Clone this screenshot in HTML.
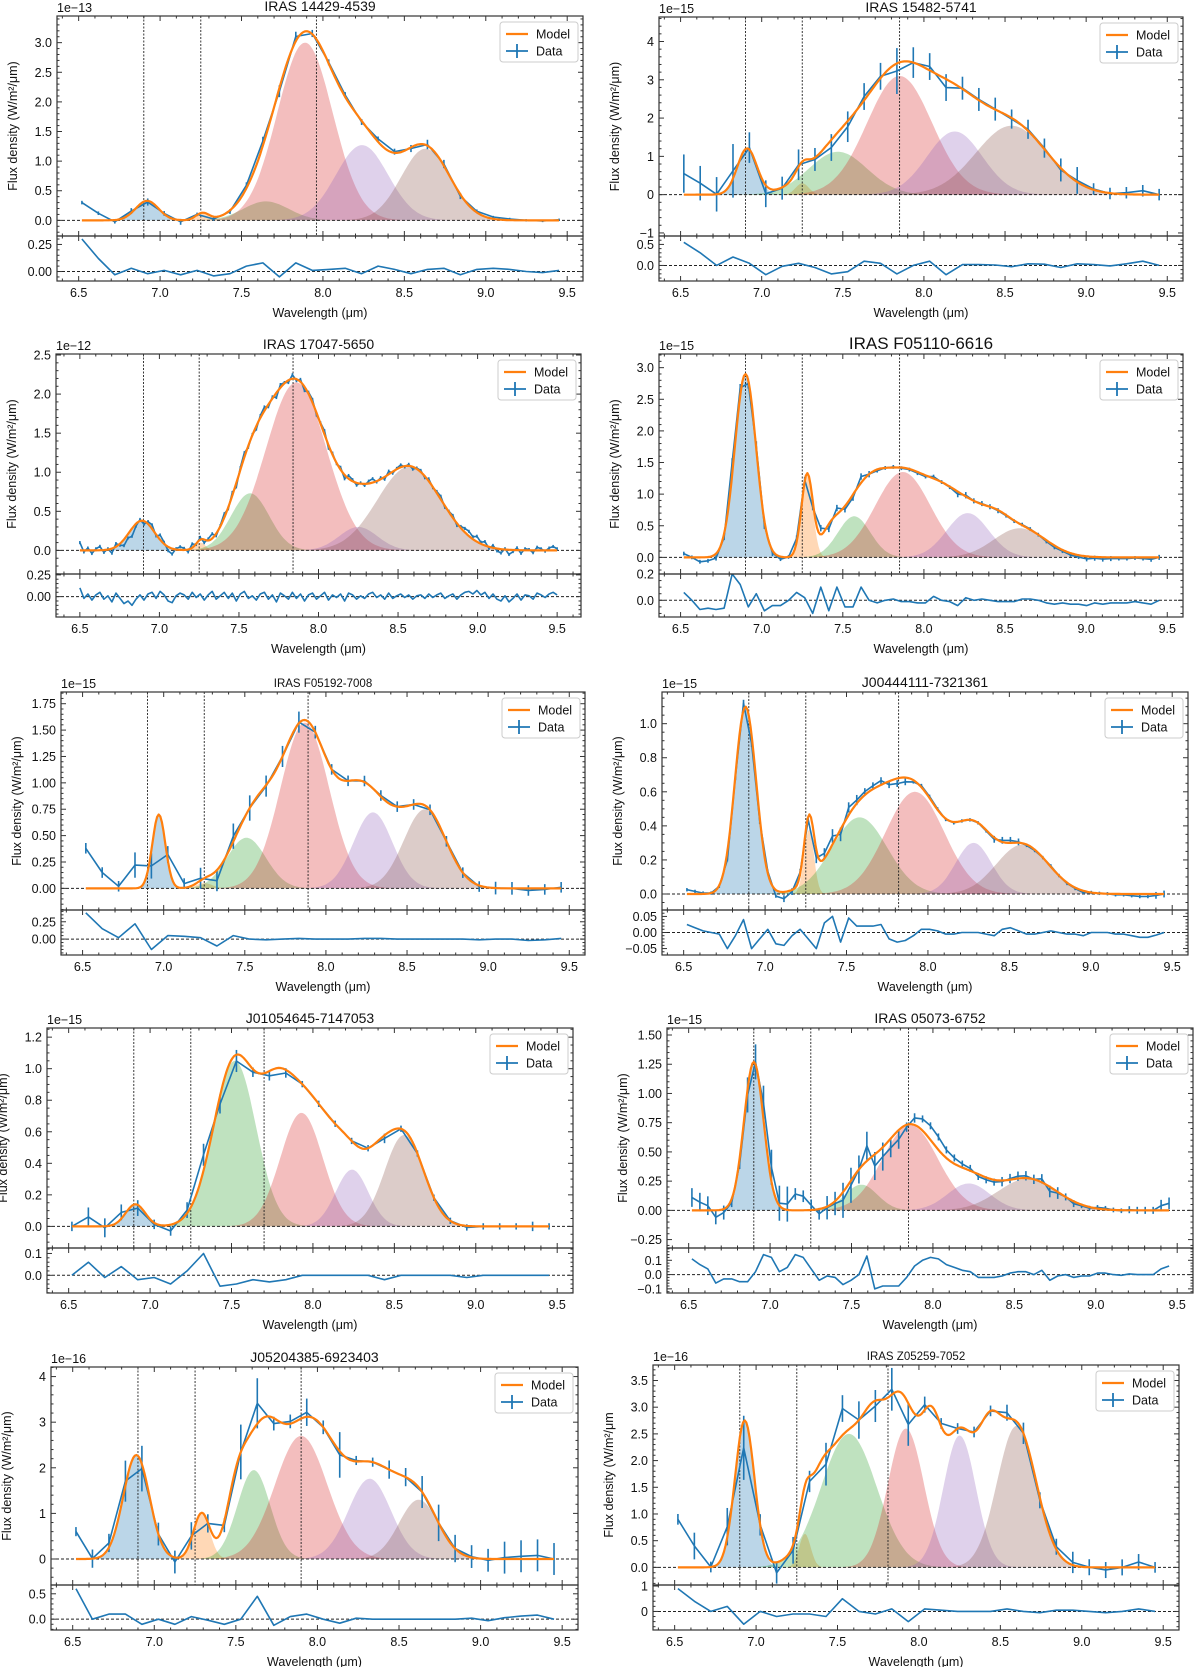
<!DOCTYPE html>
<html><head><meta charset="utf-8"><title>PAH fits</title>
<style>
html,body{margin:0;padding:0;background:#fff;}
svg{display:block;font-family:"Liberation Sans","DejaVu Sans",sans-serif;}
</style></head>
<body>
<svg id="fig" xmlns="http://www.w3.org/2000/svg" width="1200" height="1667" viewBox="0 0 1200 1667"></svg>
<script>
// ---------- data: Gaussian components [center, amplitude, sigma]; order: blue, orange, green, red, purple, brown ----------
const p1Components=[[6.92,0.33,0.07],[7.26,0.12,0.04],[7.65,0.32,0.14],[7.89,3.0,0.17],[8.24,1.27,0.16],[8.63,1.21,0.15]];
const p2Components=[[6.91,1.2,0.06],[7.25,0.3,0.04],[7.47,1.12,0.18],[7.85,3.1,0.2],[8.19,1.65,0.17],[8.54,1.8,0.22]];
const p3Components=[[6.89,0.38,0.08],[7.26,0.1,0.03],[7.57,0.73,0.12],[7.86,2.15,0.19],[8.25,0.3,0.12],[8.57,1.07,0.2]];
const p4Components=[[6.9,2.9,0.065],[7.28,1.3,0.035],[7.57,0.65,0.1],[7.87,1.35,0.17],[8.27,0.7,0.13],[8.59,0.46,0.16]];
const p5Components=[[6.97,0.7,0.04],[7.25,0.05,0.05],[7.51,0.48,0.12],[7.87,1.57,0.15],[8.29,0.72,0.12],[8.61,0.75,0.13]];
const p6Components=[[6.88,1.1,0.065],[7.27,0.38,0.03],[7.58,0.45,0.17],[7.92,0.6,0.18],[8.28,0.3,0.11],[8.58,0.29,0.16]];
const p7Components=[[6.91,0.14,0.06],[7.25,0.0,0.04],[7.52,1.05,0.13],[7.93,0.72,0.13],[8.24,0.36,0.1],[8.56,0.58,0.12]];
const p8Components=[[6.9,1.27,0.06],[7.25,0.0,0.04],[7.56,0.22,0.1],[7.86,0.73,0.17],[8.22,0.23,0.13],[8.58,0.27,0.18]];
const p9Components=[[6.89,2.28,0.08],[7.29,1.0,0.05],[7.61,1.95,0.1],[7.9,2.7,0.16],[8.32,1.76,0.13],[8.62,1.3,0.12]];
const p10Components=[[6.93,2.75,0.06],[7.3,0.63,0.035],[7.57,2.5,0.17],[7.92,2.6,0.11],[8.25,2.47,0.1],[8.6,2.65,0.12]];
// extra model-only Gaussians (part of the fitted model, not shaded)
const p1ModelExtra=[], p2ModelExtra=[], p3ModelExtra=[], p6ModelExtra=[], p8ModelExtra=[];
const p4ModelExtra=[[7.42,0.3,0.06],[7.7,0.28,0.08],[8.1,0.36,0.1],[8.45,0.17,0.08]];
const p5ModelExtra=[[7.62,0.25,0.1],[8.15,0.38,0.1],[8.45,0.12,0.08]];
const p7ModelExtra=[[7.76,0.5,0.1],[8.1,0.25,0.1],[8.4,0.2,0.08]];
const p9ModelExtra=[[7.5,0.8,0.06],[7.72,0.6,0.08],[8.08,0.9,0.12],[8.48,0.4,0.1]];
const p10ModelExtra=[[7.38,0.5,0.06],[7.73,0.9,0.07],[7.86,0.3,0.06],[8.08,1.5,0.06],[8.43,1.45,0.07]];

// ---------- residuals (data − model) on evenly spaced wavelength grid ----------
const p1Resid=[0.3,0.12,-0.03,0.03,-0.02,0.01,-0.03,0.01,-0.04,-0.02,0.05,0.08,-0.05,0.08,0.01,0.02,0.03,-0.02,0.05,0.02,-0.02,0.02,0.03,-0.03,0.02,0.03,0.02,0.0,-0.01,0.01];
const p2Resid=[0.55,0.3,0.0,0.2,0.05,-0.22,-0.02,0.05,-0.05,-0.2,-0.15,0.1,0.05,-0.2,0.0,0.1,-0.22,0.02,0.02,0.01,-0.03,0.04,0.03,-0.05,0.04,0.02,-0.01,0.04,0.1,0.0];
const p3Resid=[0.1,-0.02,0.03,-0.04,0.02,0.05,-0.03,0.01,-0.06,0.04,-0.02,-0.08,-0.05,-0.1,-0.03,0.02,-0.04,0.03,0.05,-0.02,0.06,0.02,-0.05,-0.07,0.01,0.04,0.02,-0.03,0.05,-0.01,0.03,-0.04,0.02,0.06,-0.03,0.01,0.05,-0.02,0.04,-0.05,0.03,0.06,-0.02,0.01,-0.04,0.03,0.05,-0.03,0.02,-0.06,0.04,0.01,-0.03,0.05,-0.02,0.03,-0.05,0.02,0.04,-0.03,0.01,0.05,-0.04,0.02,-0.01,0.03,-0.05,0.04,0.02,-0.03,0.01,-0.02,0.03,0.05,-0.01,0.02,-0.03,0.04,-0.02,0.01,0.03,-0.01,0.02,-0.03,0.01,0.02,-0.02,0.03,-0.01,0.02,0.04,-0.02,0.01,0.03,-0.03,0.02,0.05,0.06,0.03,0.07,0.02,0.05,-0.02,0.03,-0.03,-0.05,0.01,-0.06,-0.02,0.03,-0.04,0.02,0.01,-0.03,0.04,0.02,-0.01,0.03,0.05,0.02];
const p4Resid=[0.06,0.0,-0.07,-0.06,-0.07,-0.06,0.2,0.12,-0.05,0.05,-0.08,-0.04,-0.04,0.0,0.06,0.02,-0.1,0.1,-0.08,0.1,-0.05,-0.05,0.1,0.0,-0.02,0.0,0.01,-0.01,-0.01,-0.02,-0.02,0.03,0.0,-0.01,-0.04,0.02,0.0,0.01,0.0,-0.01,-0.01,-0.01,0.01,0.01,0.0,-0.02,-0.03,-0.02,-0.03,-0.03,-0.04,-0.02,-0.03,-0.02,-0.02,-0.02,-0.01,-0.02,-0.03,0.0];
const p5Resid=[0.38,0.15,0.02,0.22,-0.15,0.05,0.04,0.02,-0.1,0.05,0.0,-0.01,0.0,0.01,0.0,0.0,0.0,0.01,0.01,0.0,0.0,0.0,0.0,0.0,-0.01,0.0,0.0,-0.02,-0.01,0.01];
const p6Resid=[0.025,0.015,0.005,0.0,-0.005,-0.05,-0.01,0.04,-0.05,-0.02,0.01,-0.035,-0.04,-0.01,0.01,-0.02,-0.05,0.03,0.05,-0.03,0.045,0.02,0.02,0.02,0.025,-0.02,-0.03,-0.025,-0.01,0.01,0.01,0.005,-0.005,-0.005,0.0,0.0,0.0,-0.005,-0.01,0.01,0.015,0.005,-0.005,-0.005,0.0,0.005,0.0,-0.005,-0.005,-0.01,0.0,0.0,0.0,-0.005,-0.005,-0.01,-0.015,-0.015,-0.008,0.0];
const p7Resid=[0.0,0.06,-0.01,0.04,-0.02,-0.01,-0.04,0.02,0.1,-0.05,-0.04,-0.02,-0.03,-0.02,0.0,0.0,0.0,0.0,0.0,-0.02,0.0,0.0,0.0,0.0,-0.01,0.0,0.0,0.0,0.0,0.0];
const p8Resid=[0.11,0.07,0.04,-0.06,-0.03,-0.03,-0.05,-0.05,0.02,0.14,0.12,0.02,0.05,0.14,0.12,0.04,-0.04,-0.01,-0.02,-0.07,-0.04,0.0,0.13,-0.1,-0.08,-0.08,-0.08,-0.02,0.06,0.1,0.12,0.11,0.07,0.05,0.03,0.02,-0.02,-0.02,-0.02,-0.01,0.01,0.02,0.02,0.0,0.03,-0.04,-0.01,0.0,-0.02,-0.01,-0.01,0.01,0.01,0.0,-0.005,0.005,0.0,0.0,0.0,0.04,0.06];
const p9Resid=[0.6,0.0,0.1,0.1,-0.1,0.0,-0.1,0.05,-0.02,-0.1,0.0,0.45,-0.12,0.05,0.1,0.0,-0.08,0.02,0.0,0.0,0.0,0.0,0.0,0.0,0.02,-0.03,0.03,0.06,0.08,0.0];
const p10Resid=[0.9,0.4,0.0,0.2,-0.5,0.0,-0.2,-0.1,-0.1,-0.2,0.5,0.0,-0.1,0.1,-0.4,0.1,0.05,0.0,0.0,0.0,0.1,0.0,-0.05,0.05,0.05,0.0,-0.05,0.0,0.1,0.0];

// ---------- error bar half-lengths ----------
const p1Errs=[0.03,0.03,0.03,0.05,0.06,0.04,0.05,0.03,0.03,0.04,0.05,0.07,0.1,0.08,0.06,0.05,0.05,0.05,0.04,0.05,0.06,0.08,0.07,0.05,0.03,0.02,0.02,0.02,0.02,0.02];
const p2Errs=[0.5,0.45,0.45,0.7,0.4,0.35,0.3,0.4,0.3,0.35,0.4,0.35,0.35,0.6,0.4,0.35,0.35,0.3,0.3,0.3,0.25,0.25,0.25,0.3,0.35,0.15,0.15,0.15,0.15,0.15];
const p3Errs=[0.02];
const p4Errs=[0.03,0.03,0.04,0.06,0.08,0.05,0.03,0.05,0.05,0.05,0.05,0.05,0.03,0.03,0.03,0.03,0.03,0.05,0.04,0.04,0.03,0.03,0.03,0.03,0.03,0.04,0.04,0.03,0.03,0.04];
const p5Errs=[0.05,0.05,0.05,0.12,0.12,0.08,0.05,0.1,0.1,0.12,0.12,0.1,0.1,0.1,0.06,0.05,0.05,0.05,0.05,0.05,0.05,0.05,0.05,0.05,0.05,0.06,0.06,0.05,0.05,0.05];
const p6Errs=[0.01,0.01,0.01,0.02,0.02,0.01,0.02,0.02,0.03,0.04,0.03,0.02,0.02,0.02,0.01,0.01,0.01,0.01,0.01,0.02,0.02,0.01,0.01,0.01,0.01,0.01,0.01,0.01,0.01,0.02];
const p7Errs=[0.03,0.06,0.06,0.05,0.05,0.03,0.03,0.05,0.07,0.06,0.07,0.03,0.03,0.03,0.02,0.02,0.02,0.02,0.02,0.03,0.02,0.02,0.02,0.02,0.02,0.02,0.02,0.02,0.03,0.02];
const p8Errs=[0.08,0.06,0.04,0.15,0.15,0.15,0.05,0.05,0.1,0.15,0.12,0.12,0.08,0.04,0.03,0.03,0.03,0.03,0.03,0.04,0.04,0.04,0.05,0.03,0.02,0.02,0.02,0.03,0.03,0.05];
const p9Errs=[0.1,0.2,0.2,0.45,0.5,0.25,0.25,0.3,0.2,0.15,0.6,0.55,0.15,0.15,0.3,0.15,0.5,0.1,0.1,0.2,0.2,0.35,0.4,0.3,0.25,0.25,0.35,0.35,0.35,0.35];
const p10Errs=[0.1,0.25,0.1,0.35,0.6,0.2,0.2,0.25,0.2,0.4,0.25,0.35,0.3,0.4,0.4,0.15,0.1,0.1,0.1,0.1,0.15,0.2,0.15,0.15,0.2,0.15,0.15,0.15,0.15,0.1];

// ---------- tick labels / markers ----------
const xTickValues=[6.5,7.0,7.5,8.0,8.5,9.0,9.5];
const p1YTicks=[0,0.5,1,1.5,2,2.5,3], p1RTicks=[0,0.25];
const p2YTicks=[-1,0,1,2,3,4], p2RTicks=[0,0.5];
const p3YTicks=[0,0.5,1,1.5,2,2.5], p3RTicks=[0,0.25];
const p4YTicks=[0,0.5,1,1.5,2,2.5,3], p4RTicks=[0,0.2];
const p5YTicks=[0,0.25,0.5,0.75,1,1.25,1.5,1.75], p5RTicks=[0,0.25];
const p6YTicks=[0,0.2,0.4,0.6,0.8,1.0], p6RTicks=[-0.05,0,0.05];
const p7YTicks=[0,0.2,0.4,0.6,0.8,1.0,1.2], p7RTicks=[0,0.1];
const p8YTicks=[-0.25,0,0.25,0.5,0.75,1.0,1.25,1.5], p8RTicks=[-0.1,0,0.1];
const p9YTicks=[0,1,2,3,4], p9RTicks=[0,0.5];
const p10YTicks=[0,0.5,1,1.5,2,2.5,3,3.5], p10RTicks=[0,1];
const p1Lines=[6.9,7.25,7.96], p2Lines=[6.9,7.25,7.85], p3Lines=[6.9,7.25,7.84], p4Lines=[6.9,7.25,7.85], p5Lines=[6.9,7.25,7.89];
const p6Lines=[6.9,7.25,7.82], p7Lines=[6.9,7.25,7.70], p8Lines=[6.9,7.25,7.85], p9Lines=[6.9,7.25,7.90], p10Lines=[6.9,7.25,7.81];

// ---------- layout ----------
const panels=[
 {id:'p1',title:'IRAS 14429-4539',tfs:14,exp:'1e\u221213',comp:p1Components,extra:p1ModelExtra,res:p1Resid,err:p1Errs,yt:p1YTicks,rt:p1RTicks,vl:p1Lines,yd:1,rd:2,ymn:0.1,rmn:0.05,L:57,R:583,T:16,MB:236,RB:281,x0:6.52,x1:9.45,xmin:6.367,xmax:9.597,ymin:-0.264,ymax:3.45,rmin:-0.0875,rmax:0.328},
 {id:'p2',title:'IRAS 15482-5741',tfs:14,exp:'1e\u221215',comp:p2Components,extra:p2ModelExtra,res:p2Resid,err:p2Errs,yt:p2YTicks,rt:p2RTicks,vl:p2Lines,yd:0,rd:1,ymn:0.2,rmn:0.1,L:659,R:1183,T:17,MB:236,RB:281,x0:6.52,x1:9.45,xmin:6.367,xmax:9.597,ymin:-1.08,ymax:4.64,rmin:-0.37,rmax:0.70},
 {id:'p3',title:'IRAS 17047-5650',tfs:14,exp:'1e\u221212',comp:p3Components,extra:p3ModelExtra,res:p3Resid,err:p3Errs,yt:p3YTicks,rt:p3RTicks,vl:p3Lines,yd:1,rd:2,ymn:0.1,rmn:0.05,L:56,R:581,T:354,MB:574,RB:617,x0:6.5,x1:9.5,xmin:6.35,xmax:9.65,ymin:-0.302,ymax:2.513,rmin:-0.234,rmax:0.26},
 {id:'p4',title:'IRAS F05110-6616',tfs:17,exp:'1e\u221215',comp:p4Components,extra:p4ModelExtra,res:p4Resid,err:p4Errs,yt:p4YTicks,rt:p4RTicks,vl:p4Lines,yd:1,rd:1,ymn:0.1,rmn:0.05,L:659,R:1183,T:354,MB:574,RB:617,x0:6.52,x1:9.45,xmin:6.367,xmax:9.597,ymin:-0.263,ymax:3.216,rmin:-0.127,rmax:0.2},
 {id:'p5',title:'IRAS F05192-7008',tfs:11.5,exp:'1e\u221215',comp:p5Components,extra:p5ModelExtra,res:p5Resid,err:p5Errs,yt:p5YTicks,rt:p5RTicks,vl:p5Lines,yd:2,rd:2,ymn:0.05,rmn:0.05,L:61,R:585,T:692,MB:910,RB:955,x0:6.52,x1:9.45,xmin:6.367,xmax:9.597,ymin:-0.205,ymax:1.861,rmin:-0.23,rmax:0.42},
 {id:'p6',title:'J00444111-7321361',tfs:14,exp:'1e\u221215',comp:p6Components,extra:p6ModelExtra,res:p6Resid,err:p6Errs,yt:p6YTicks,rt:p6RTicks,vl:p6Lines,yd:1,rd:2,ymn:0.05,rmn:0.01,L:662,R:1188,T:692,MB:910,RB:955,x0:6.52,x1:9.45,xmin:6.367,xmax:9.597,ymin:-0.094,ymax:1.186,rmin:-0.07,rmax:0.07},
 {id:'p7',title:'J01054645-7147053',tfs:14,exp:'1e\u221215',comp:p7Components,extra:p7ModelExtra,res:p7Resid,err:p7Errs,yt:p7YTicks,rt:p7RTicks,vl:p7Lines,yd:1,rd:1,ymn:0.05,rmn:0.02,L:47,R:573,T:1028,MB:1248,RB:1293,x0:6.52,x1:9.45,xmin:6.367,xmax:9.597,ymin:-0.137,ymax:1.258,rmin:-0.081,rmax:0.125},
 {id:'p8',title:'IRAS 05073-6752',tfs:14,exp:'1e\u221215',comp:p8Components,extra:p8ModelExtra,res:p8Resid,err:p8Errs,yt:p8YTicks,rt:p8RTicks,vl:p8Lines,yd:2,rd:1,ymn:0.05,rmn:0.02,L:667,R:1193,T:1028,MB:1248,RB:1293,x0:6.52,x1:9.45,xmin:6.367,xmax:9.597,ymin:-0.322,ymax:1.56,rmin:-0.129,rmax:0.186},
 {id:'p9',title:'J05204385-6923403',tfs:14,exp:'1e\u221216',comp:p9Components,extra:p9ModelExtra,res:p9Resid,err:p9Errs,yt:p9YTicks,rt:p9RTicks,vl:p9Lines,yd:0,rd:1,ymn:0.2,rmn:0.1,L:51,R:578,T:1367,MB:1585,RB:1630,x0:6.52,x1:9.45,xmin:6.367,xmax:9.597,ymin:-0.57,ymax:4.21,rmin:-0.213,rmax:0.673},
 {id:'p10',title:'IRAS Z05259-7052',tfs:11.5,exp:'1e\u221216',ylab:'Flux density (W/m\u00b2/\u03bcm',comp:p10Components,extra:p10ModelExtra,res:p10Resid,err:p10Errs,yt:p10YTicks,rt:p10RTicks,vl:p10Lines,yd:1,rd:0,ymn:0.1,rmn:0.2,L:653,R:1179,T:1365,MB:1585,RB:1630,x0:6.52,x1:9.45,xmin:6.367,xmax:9.597,ymin:-0.33,ymax:3.79,rmin:-0.73,rmax:1.04}
];
const compColors=['rgba(31,119,180,0.3)','rgba(255,127,14,0.3)','rgba(44,160,44,0.3)','rgba(214,39,40,0.3)','rgba(148,103,189,0.3)','rgba(140,86,75,0.3)'];
const compNames=['component-blue','component-orange','component-green','component-red','component-purple','component-brown'];

const NS='http://www.w3.org/2000/svg';
const svg=document.getElementById('fig');
function mk(tag,attrs,parent){const e=document.createElementNS(NS,tag);for(const k in attrs)e.setAttribute(k,attrs[k]);(parent||svg).appendChild(e);return e;}
function fmt(v,d){if(Math.abs(v)<1e-12)v=0;const s=Math.abs(v).toFixed(d);return (v<0?'\u2212':'')+s;}
function gauss(x,c){return c[1]*Math.exp(-((x-c[0])*(x-c[0]))/(2*c[2]*c[2]));}
function model(x,comps,extra){let s=0;for(const c of comps)s+=gauss(x,c);for(const c of extra)s+=gauss(x,c);return s;}

panels.forEach((p,pi)=>{
  const g=mk('g',{});
  
  
  const sx=x=>p.L+(x-p.xmin)/(p.xmax-p.xmin)*(p.R-p.L);
  const sy=y=>p.MB-(y-p.ymin)/(p.ymax-p.ymin)*(p.MB-p.T);
  const ry=y=>p.RB-(y-p.rmin)/(p.rmax-p.rmin)*(p.RB-p.MB);
  const cid='clip'+pi, rcid='rclip'+pi;
  const defs=mk('defs',{},g);
  const cp=mk('clipPath',{id:cid},defs); mk('rect',{x:p.L,y:p.T,width:p.R-p.L,height:p.MB-p.T},cp);
  const rcp=mk('clipPath',{id:rcid},defs); mk('rect',{x:p.L,y:p.MB,width:p.R-p.L,height:p.RB-p.MB},rcp);
  const main=mk('g',{'clip-path':'url(#'+cid+')'},g);
  const NG=300;
  p.comp.forEach((c,ci)=>{
    if(c[1]<=0)return;
    let d='M'+sx(p.x0).toFixed(1)+','+sy(0).toFixed(1);
    for(let i=0;i<=NG;i++){const x=p.x0+(p.x1-p.x0)*i/NG;d+='L'+sx(x).toFixed(1)+','+sy(gauss(x,c)).toFixed(1);}
    d+='L'+sx(p.x1).toFixed(1)+','+sy(0).toFixed(1)+'Z';
    const el=mk('path',{d:d,fill:compColors[ci],stroke:'none'},main);
    
    
  });
  p.vl.forEach(v=>{
    const el=mk('line',{x1:sx(v),x2:sx(v),y1:p.T,y2:p.MB,stroke:'#222','stroke-width':0.9,'stroke-dasharray':'2,1.5'},main);
    
    
  });
  const z=mk('line',{x1:p.L,x2:p.R,y1:sy(0),y2:sy(0),stroke:'#222','stroke-width':1,'stroke-dasharray':'3,2'},main);
  
  
  const n=p.res.length;
  let dd='';
  const eg=mk('g',{stroke:'#1f77b4','stroke-width':1.6},main);
  
  
  for(let i=0;i<n;i++){
    const x=p.x0+(p.x1-p.x0)*i/(n-1);
    const y=model(x,p.comp,p.extra)+p.res[i];
    dd+=(i?'L':'M')+sx(x).toFixed(1)+','+sy(y).toFixed(1);
    const e=p.err[Math.min(p.err.length-1,Math.floor(i*p.err.length/n))];
    mk('line',{x1:sx(x),x2:sx(x),y1:sy(y-e),y2:sy(y+e)},eg);
  }
  const dl=mk('path',{d:dd,fill:'none',stroke:'#1f77b4','stroke-width':1.6,'stroke-linejoin':'round'},main);
  
  
  let md='';
  for(let i=0;i<=NG;i++){const x=p.x0+(p.x1-p.x0)*i/NG;md+=(i?'L':'M')+sx(x).toFixed(1)+','+sy(model(x,p.comp,p.extra)).toFixed(1);}
  const ml=mk('path',{d:md,fill:'none',stroke:'#ff7f0e','stroke-width':2.2,'stroke-linejoin':'round'},main);
  
  
  const rg=mk('g',{'clip-path':'url(#'+rcid+')'},g);
  const rz=mk('line',{x1:p.L,x2:p.R,y1:ry(0),y2:ry(0),stroke:'#222','stroke-width':1,'stroke-dasharray':'3,2'},rg);
  
  
  let rd='';
  for(let i=0;i<n;i++){const x=p.x0+(p.x1-p.x0)*i/(n-1);rd+=(i?'L':'M')+sx(x).toFixed(1)+','+ry(p.res[i]).toFixed(1);}
  const rl=mk('path',{d:rd,fill:'none',stroke:'#1f77b4','stroke-width':1.6,'stroke-linejoin':'round'},rg);
  
  
  const f1=mk('rect',{x:p.L,y:p.T,width:p.R-p.L,height:p.MB-p.T,fill:'none',stroke:'#333','stroke-width':1.2},g);
  
  
  const f2=mk('rect',{x:p.L,y:p.MB,width:p.R-p.L,height:p.RB-p.MB,fill:'none',stroke:'#333','stroke-width':1.2},g);
  
  
  const tg=mk('g',{stroke:'#333','stroke-width':1},g);
  for(let v=6.4;v<=9.61;v+=0.1){
    const vv=Math.round(v*10)/10; if(vv<p.xmin||vv>p.xmax)continue;
    const major=Math.abs(vv*2-Math.round(vv*2))<1e-6; const L=major?5:2.5; const X=sx(vv);
    [p.T,p.MB].forEach(t=>mk('line',{x1:X,x2:X,y1:t,y2:t+L},tg));
    [p.MB,p.RB].forEach(b=>mk('line',{x1:X,x2:X,y1:b,y2:b-L},tg));
  }
  const yMaj=p.yt[1]-p.yt[0];
  for(let v=Math.ceil(p.ymin/p.ymn)*p.ymn;v<=p.ymax;v+=p.ymn){
    const r=v/yMaj; const major=Math.abs(r-Math.round(r))<1e-6; const L=major?5:2.5; const Y=sy(v);
    mk('line',{x1:p.L,x2:p.L+L,y1:Y,y2:Y},tg); mk('line',{x1:p.R,x2:p.R-L,y1:Y,y2:Y},tg);
  }
  const rMaj=p.rt[1]-p.rt[0];
  for(let v=Math.ceil(p.rmin/p.rmn)*p.rmn;v<=p.rmax;v+=p.rmn){
    const r=v/rMaj; const major=Math.abs(r-Math.round(r))<1e-6; const L=major?5:2.5; const Y=ry(v);
    mk('line',{x1:p.L,x2:p.L+L,y1:Y,y2:Y},tg); mk('line',{x1:p.R,x2:p.R-L,y1:Y,y2:Y},tg);
  }
  xTickValues.forEach(v=>{
    const t=mk('text',{x:sx(v),y:p.RB+16,'font-size':12.5,'text-anchor':'middle',fill:'#111'},g);
    t.textContent=v.toFixed(1);
    
    
  });
  p.yt.forEach(v=>{
    const t=mk('text',{x:p.L-5,y:sy(v)+4.5,'font-size':12.5,'text-anchor':'end',fill:'#111'},g);
    t.textContent=fmt(v,p.yd);
    
    
  });
  p.rt.forEach(v=>{
    const t=mk('text',{x:p.L-5,y:ry(v)+4.5,'font-size':12.5,'text-anchor':'end',fill:'#111'},g);
    t.textContent=fmt(v,p.rd);
    
    
  });
  const xl=mk('text',{x:(p.L+p.R)/2,y:p.RB+36,'font-size':12.5,'text-anchor':'middle',fill:'#111'},g);
  xl.textContent='Wavelength (\u03bcm)';
  
  
  const ylx=p.L-40, yly=(p.T+p.MB)/2;
  const yl=mk('text',{x:ylx,y:yly,'font-size':12.5,'text-anchor':'middle',fill:'#111',transform:'rotate(-90 '+ylx+' '+yly+')'},g);
  yl.textContent=p.ylab||'Flux density (W/m\u00b2/\u03bcm)';
  
  
  const ex=mk('text',{x:p.L,y:p.T-4,'font-size':12.5,fill:'#111'},g);
  ex.textContent=p.exp;
  
  
  const ti=mk('text',{x:(p.L+p.R)/2,y:p.T-5,'font-size':p.tfs,'text-anchor':'middle',fill:'#111'},g);
  ti.textContent=p.title;
  
  
  const lx=p.R-83, ly=p.T+6;
  const lg=mk('g',{},g);
  
  
  mk('rect',{x:lx,y:ly,width:78,height:40,rx:3,fill:'rgba(255,255,255,0.85)',stroke:'#ccc','stroke-width':1},lg);
  mk('line',{x1:lx+6,x2:lx+28,y1:ly+12,y2:ly+12,stroke:'#ff7f0e','stroke-width':2.2},lg);
  const t1=mk('text',{x:lx+36,y:ly+16.5,'font-size':12.5,fill:'#111'},lg); t1.textContent='Model';
  
  
  mk('line',{x1:lx+6,x2:lx+28,y1:ly+29,y2:ly+29,stroke:'#1f77b4','stroke-width':1.8},lg);
  mk('line',{x1:lx+17,x2:lx+17,y1:ly+22,y2:ly+36,stroke:'#1f77b4','stroke-width':1.8},lg);
  const t2=mk('text',{x:lx+36,y:ly+33.5,'font-size':12.5,fill:'#111'},lg); t2.textContent='Data';
  
  
});
</script>
</body></html>
